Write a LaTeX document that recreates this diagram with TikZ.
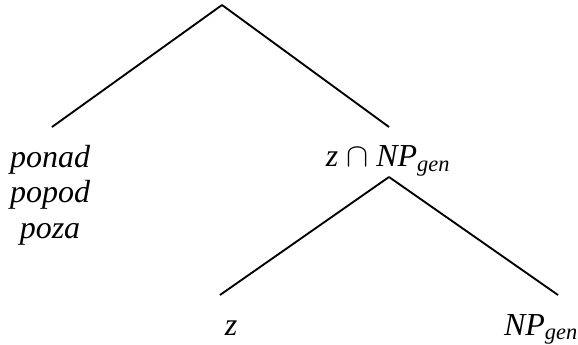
\documentclass[tikz,border=0pt]{standalone}
\usepackage{fontspec}
\setmainfont{Liberation Serif}

\begin{document}
\begin{tikzpicture}[x=0.75pt,y=-0.75pt,line width=1.4pt,
    lbl/.style={inner sep=0pt,anchor=base,font=\fontsize{24}{27}\selectfont\itshape}]
   \useasboundingbox (0,0) rectangle (578,345);
   \coordinate (root) at (222,5);
   \coordinate (pl) at (52,127);
   \coordinate (zn) at (389,127);
   \coordinate (zn2) at (389,177);
   \coordinate (zl) at (220,295);
   \coordinate (npl) at (558,295);

   % base of a multi-line node is its last line
   \node[lbl,align=center] (prep) at (50,239) {ponad\\popod\\poza};
   \node[lbl] (znp) at (388,167) {z $\cap$ NP\textsubscript{gen}};
   \node[lbl] (z) at (231,335) {z};
   \node[lbl] (np) at (541,335) {NP\textsubscript{gen}};

   \path (root) edge (pl) edge (zn)
         (zn2) edge (zl) edge (npl);
\end{tikzpicture}
\end{document}
